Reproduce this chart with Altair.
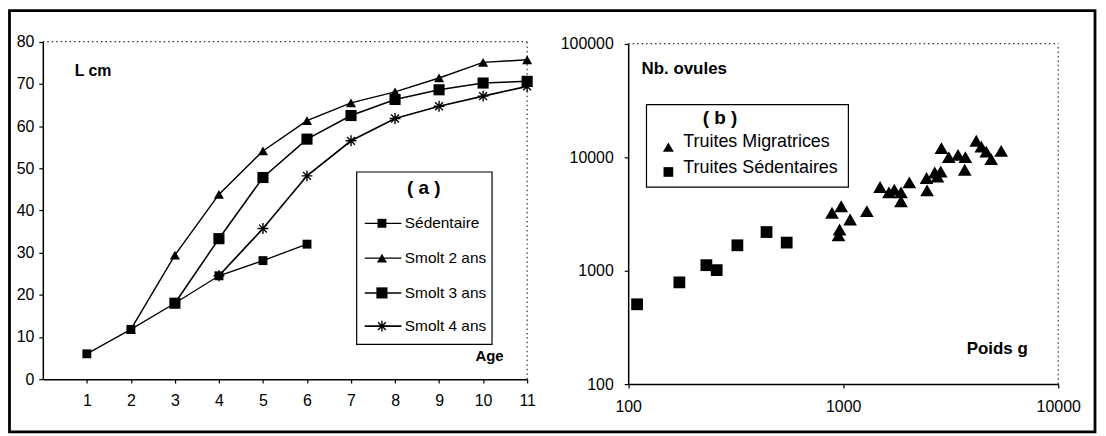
import altair as alt
import pandas as pd

# ---------------- (a) growth curves ----------------
series_names = ["Sédentaire", "Smolt 2 ans", "Smolt 3 ans", "Smolt 4 ans"]
sed_age = [1, 2, 3, 4, 5, 6]
sed_len = [6.0, 11.8, 18.0, 24.5, 28.1, 32.0]
s2_age = [2, 3, 4, 5, 6, 7, 8, 9, 10, 11]
s2_len = [11.8, 29.4, 43.8, 54.1, 61.3, 65.5, 68.1, 71.4, 75.1, 75.7]
s3_age = [3, 4, 5, 6, 7, 8, 9, 10, 11]
s3_len = [18.0, 33.3, 47.8, 56.9, 62.5, 66.3, 68.6, 70.2, 70.6]
s4_age = [4, 5, 6, 7, 8, 9, 10, 11]
s4_len = [24.5, 35.7, 48.2, 56.5, 61.8, 64.7, 67.1, 69.4]
age_ticks = list(range(1, 12))
len_ticks = list(range(0, 81, 10))

# ---------------- (b) fecundity ----------------
group_names = ["Truites Migratrices", "Truites Sédentaires"]
mig_weight = [887, 979, 962, 951, 1077, 1288, 1484, 1632, 1728, 1857, 1857, 2030,
              2441, 2455, 2666, 2744, 2842, 2862, 3097, 3420, 3700, 3674, 4158,
              4388, 4627, 4877, 5430]
mig_eggs = [3236, 3690, 2306, 2045, 2825, 3342, 5458, 4898, 5174, 4898, 4085, 5998,
            6550, 5100, 7330, 6760, 7480, 12000, 10000, 10480, 10000, 7740, 13960,
            12390, 11200, 9600, 11350]
sed_weight = [110, 173, 231, 258, 322, 440, 546]
sed_eggs = [505, 788, 1117, 1010, 1672, 2188, 1766]
weight_ticks = [100, 1000, 10000]
eggs_ticks = [100, 1000, 10000, 100000]

FONT = "Liberation Sans"
AXFONT = "Liberation Sans, Arial, Helvetica, sans-serif"
ASTER = "M-1,0L1,0M0,-1L0,1M-0.72,-0.72L0.72,0.72M-0.72,0.72L0.72,-0.72"

rows = []
for name, ages, lens in zip(series_names, [sed_age, s2_age, s3_age, s4_age],
                            [sed_len, s2_len, s3_len, s4_len]):
    for a, l in zip(ages, lens):
        rows.append({"series": name, "age": a, "len": l})
df_a = pd.DataFrame(rows)

rows = []
for g, ws, es in zip(group_names, [mig_weight, sed_weight], [mig_eggs, sed_eggs]):
    for w, e in zip(ws, es):
        rows.append({"group": g, "weight": w, "eggs": e})
df_b = pd.DataFrame(rows)

one = pd.DataFrame({"k": [0]})


def axis(orient, offset, values, pad, fmt=None):
    kw = dict(orient=orient, offset=offset, values=values, grid=False, title=None,
              domainColor="black", domainWidth=1.5, tickColor="black", tickWidth=1.2,
              tickSize=4, labelFont=AXFONT, labelFontSize=16, labelColor="black",
              labelPadding=pad, labelFlush=False, labelOverlap=False)
    if fmt:
        kw["format"] = fmt
    return alt.Axis(**kw)


XA = alt.Scale(domain=[0, 11], range=[35, 522], nice=False, zero=False)
YA = alt.Scale(domain=[0, 80], range=[372, 32.7], nice=False, zero=False)
XB = alt.Scale(type="log", domain=[100, 10000], range=[623.6, 1056], nice=False)
YB = alt.Scale(type="log", domain=[100, 100000], range=[377, 34.7], nice=False)

axXA = axis("bottom", -56, age_ticks, 10)
axYA = axis("left", -35, len_ticks, 5)
axXB = axis("bottom", -51, weight_ticks, 11, "d")
axYB = axis("left", -623.6, eggs_ticks, 11, "d")

xa = alt.X("age:Q", scale=XA, axis=axXA)
ya = alt.Y("len:Q", scale=YA, axis=axYA)

sw_scale = alt.Scale(domain=series_names, range=[1.3, 1.7, 2.2, 1.2])
shape_a = alt.Scale(domain=series_names[:3], range=["square", "triangle-up", "square"])
size_a = alt.Scale(domain=series_names[:3], range=[80, 125, 120])

# dotted plot-area borders (a)
border_a_df = pd.DataFrame({"x": [0, 11], "x2": [11, 11], "y": [80, 0], "y2": [80, 80]})
border_a = alt.Chart(border_a_df).mark_rule(color="#333", strokeDash=[1.5, 3], strokeWidth=1.2).encode(
    x=alt.X("x:Q", scale=XA, axis=axXA), x2="x2:Q",
    y=alt.Y("y:Q", scale=YA, axis=axYA), y2="y2:Q")

line_a = alt.Chart(df_a).mark_line(color="black").encode(
    x=xa, y=ya, detail="series:N",
    strokeWidth=alt.StrokeWidth("series:N", scale=sw_scale, legend=None))

pts_a = alt.Chart(df_a).transform_filter(alt.datum.series != "Smolt 4 ans").mark_point(
    filled=True, color="black", opacity=1).encode(
    x=xa, y=ya,
    shape=alt.Shape("series:N", scale=shape_a, legend=None),
    size=alt.Size("series:N", scale=size_a, legend=None))

ast_a = alt.Chart(df_a).transform_filter(alt.datum.series == "Smolt 4 ans").mark_point(
    shape=ASTER, filled=False, color="black", size=120, strokeWidth=1.4, opacity=1).encode(
    x=xa, y=ya)

left = alt.layer(border_a, line_a, pts_a, ast_a)

# dotted plot-area borders (b)
border_b_df = pd.DataFrame({"x": [100, 10000], "x2": [10000, 10000],
                            "y": [100000, 100], "y2": [100000, 100000]})
border_b = alt.Chart(border_b_df).mark_rule(color="#333", strokeDash=[1.5, 3], strokeWidth=1.2).encode(
    x=alt.X("x:Q", scale=XB, axis=axXB), x2="x2:Q",
    y=alt.Y("y:Q", scale=YB, axis=axYB), y2="y2:Q")

shape_b = alt.Scale(domain=group_names, range=["triangle-up", "square"])
pts_b = alt.Chart(df_b).mark_point(filled=True, color="black", opacity=1).encode(
    x=alt.X("weight:Q", scale=XB, axis=axXB),
    y=alt.Y("eggs:Q", scale=YB, axis=axYB),
    shape=alt.Shape("group:N", scale=shape_b, legend=None),
    size=alt.Size("group:N", scale=alt.Scale(domain=group_names, range=[190, 140]), legend=None))

right = alt.layer(border_b, pts_b)

# outer frame
frame = alt.Chart(one).mark_rect(fill="white", fillOpacity=0, stroke="black", strokeWidth=2.8).encode(
    x=alt.value(1.5), x2=alt.value(1093), y=alt.value(1.5), y2=alt.value(425))


def label(txt, x, y, size=16, weight="bold", align="left"):
    return alt.Chart(one).mark_text(text=txt, font=FONT, fontSize=size, fontWeight=weight,
                                    color="black", align=align, baseline="middle").encode(
        x=alt.value(x), y=alt.value(y))


texts = [
    label("L cm", 67, 62, 16),
    label("Age", 470, 349, 15),
    label("Nb. ovules", 637, 60, 17),
    label("Poids g", 964, 342, 17),
]

# legend (a)
box_a = alt.Chart(one).mark_rect(fill="white", stroke="black", strokeWidth=1.2).encode(
    x=alt.value(350.6), x2=alt.value(486.7), y=alt.value(163.7), y2=alt.value(337))
title_a = label("( a )", 418, 180, 19, align="center")
leg_a = pd.DataFrame({"series": series_names, "ly": [215.3, 250.3, 285.3, 318.7]})
leg_a_line = alt.Chart(leg_a).mark_rule(color="black").encode(
    x=alt.value(358.7), x2=alt.value(395.5), y=alt.Y("ly:Q", scale=None),
    strokeWidth=alt.StrokeWidth("series:N", scale=sw_scale, legend=None))
leg_a_pts = alt.Chart(leg_a).transform_filter(alt.datum.series != "Smolt 4 ans").mark_point(
    filled=True, color="black", opacity=1).encode(
    x=alt.value(376), y=alt.Y("ly:Q", scale=None),
    shape=alt.Shape("series:N", scale=shape_a, legend=None),
    size=alt.Size("series:N", scale=size_a, legend=None))
leg_a_ast = alt.Chart(leg_a).transform_filter(alt.datum.series == "Smolt 4 ans").mark_point(
    shape=ASTER, filled=False, color="black", size=120, strokeWidth=1.4, opacity=1).encode(
    x=alt.value(376), y=alt.Y("ly:Q", scale=None))
leg_a_txt = alt.Chart(leg_a).mark_text(font=FONT, fontSize=15.5, color="black", align="left",
                                       baseline="middle").encode(
    x=alt.value(399), y=alt.Y("ly:Q", scale=None), text="series:N")

# legend (b)
box_b = alt.Chart(one).mark_rect(fill="white", stroke="black", strokeWidth=1.2).encode(
    x=alt.value(642), x2=alt.value(845), y=alt.value(96), y2=alt.value(179))
title_b = label("( b )", 716, 109, 19, align="center")
leg_b = pd.DataFrame({"group": group_names, "my": [138.7, 163.7], "ty": [134, 160]})
leg_b_pts = alt.Chart(leg_b).mark_point(filled=True, color="black", opacity=1).encode(
    x=alt.value(664), y=alt.Y("my:Q", scale=None),
    shape=alt.Shape("group:N", scale=shape_b, legend=None),
    size=alt.Size("group:N", scale=alt.Scale(domain=group_names, range=[120, 95]), legend=None))
leg_b_txt = alt.Chart(leg_b).mark_text(font=FONT, fontSize=18, color="black", align="left",
                                       baseline="middle").encode(
    x=alt.value(679), y=alt.Y("ty:Q", scale=None), text="group:N")

chart = alt.layer(
    left, right, frame, *texts,
    box_a, title_a, leg_a_line, leg_a_pts, leg_a_ast, leg_a_txt,
    box_b, title_b, leg_b_pts, leg_b_txt,
).resolve_scale(
    x="independent", y="independent", shape="independent", size="independent",
    strokeWidth="independent",
).properties(
    width=1096, height=428, autosize=alt.AutoSizeParams(type="none"), padding=0,
    background="white",
).configure_view(strokeWidth=0).configure_axis(labelFont=AXFONT, labelFontSize=16)

chart.save("out.html", embed_options={"renderer": "svg", "actions": False})
